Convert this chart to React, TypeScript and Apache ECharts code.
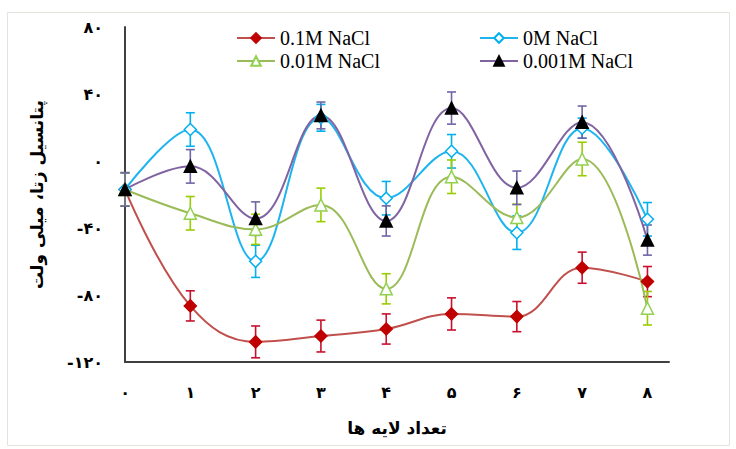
import React, { useEffect, useRef } from 'react';
import * as echarts from 'echarts';

// number of layers (x positions)
const layers = [0, 1, 2, 3, 4, 5, 6, 7, 8];
const yTicks = [-120, -80, -40, 0, 40, 80];

const seriesNames = ['0.1M NaCl', '0M NaCl', '0.01M NaCl', '0.001M NaCl'];

// zeta potential (mV)
const nacl01 = [-17, -86.5, -108, -104.5, -100.3, -91.3, -92.9, -63.7, -72];
const nacl0 = [-17, 18.8, -59.9, 25.8, -22.2, 5.8, -42.8, 19.6, -34.8];
const nacl001 = [-17, -31.2, -40.8, -26.2, -76.3, -9.4, -33.8, 1.2, -87.9];
const nacl0001 = [-17, -3.2, -34.4, 27.2, -35.8, 31.6, -16, 23.2, -47.2];

// error (±)
const err01 = [10, 9, 9.5, 9.5, 9, 9.6, 9, 9.3, 9];
const err0 = [10, 10, 9.6, 8, 10, 10, 10, 6, 10];
const err001 = [10, 10, 9, 10, 9, 10, 8, 10, 10];
const err0001 = [10, 10, 10, 8, 9, 9.6, 10, 9.6, 9];

const FA = '۰۱۲۳۴۵۶۷۸۹';
const fa = (n: number) => String(n).replace(/\d/g, (d) => FA[Number(d)]);

const persianFont = 'DejaVu Sans';

function lineSeries(name: string, values: number[], lineColor: string, symbol: string, fill: string, border: string, size: number) {
  return {
    type: 'line',
    name,
    data: layers.map((x, i) => [x, values[i]]),
    smooth: 0.4,
    symbol,
    symbolSize: size,
    showAllSymbol: true,
    lineStyle: { color: lineColor, width: 2 },
    itemStyle: { color: fill, borderColor: border, borderWidth: 1.5 },
    z: 3,
  };
}

function errSeries(name: string, values: number[], errs: number[], color: string) {
  return {
    type: 'custom',
    name: name + ' error',
    silent: true,
    z: 2,
    data: layers.map((x, i) => [x, values[i] - errs[i], values[i] + errs[i]]),
    encode: { x: 0, y: [1, 2] },
    renderItem: (_params: any, api: any) => {
      const x = api.value(0);
      const lo = api.coord([x, api.value(1)]);
      const hi = api.coord([x, api.value(2)]);
      const w = 4.5;
      const st = { stroke: color, lineWidth: 1.6 };
      return {
        type: 'group',
        children: [
          { type: 'line', shape: { x1: lo[0], y1: lo[1], x2: hi[0], y2: hi[1] }, style: st },
          { type: 'line', shape: { x1: lo[0] - w, y1: lo[1], x2: lo[0] + w, y2: lo[1] }, style: st },
          { type: 'line', shape: { x1: hi[0] - w, y1: hi[1], x2: hi[0] + w, y2: hi[1] }, style: st },
        ],
      };
    },
  };
}

export default function App() {
  const ref = useRef<HTMLDivElement>(null);
  useEffect(() => {
    const chart = echarts.init(ref.current!, null, { renderer: 'svg' });
    const legendText = { fontFamily: 'Liberation Serif', fontSize: 20, color: '#000' };
    chart.setOption({
      animation: false,
      backgroundColor: '#fff',
      grid: { left: 125, top: 27, right: 67, bottom: 87, containLabel: false },
      legend: [
        {
          orient: 'vertical', left: 236, top: 28, padding: 0, itemGap: 3, itemWidth: 38, itemHeight: 12,
          data: [seriesNames[0], seriesNames[2]], textStyle: legendText,
        },
        {
          orient: 'vertical', left: 479, top: 28, padding: 0, itemGap: 3, itemWidth: 38, itemHeight: 12,
          data: [seriesNames[1], seriesNames[3]], textStyle: legendText,
        },
      ],
      xAxis: {
        type: 'value', min: 0, max: 8.33, interval: 1,
        name: 'تعداد لایه ها', nameLocation: 'middle', nameGap: 57,
        nameTextStyle: { fontFamily: persianFont, fontSize: 17, fontWeight: 'bold', color: '#000' },
        axisLine: { show: true, onZero: false, lineStyle: { color: '#404040', width: 2 } },
        axisTick: { show: false },
        splitLine: { show: false },
        axisLabel: {
          margin: 22, fontFamily: persianFont, fontSize: 16, fontWeight: 'bold', color: '#000',
          formatter: (v: number) => (layers.includes(v) ? fa(v) : ''),
        },
      },
      yAxis: {
        type: 'value', min: yTicks[0], max: yTicks[yTicks.length - 1], interval: 40,
        name: 'پتانسیل زتا، میلی ولت', nameLocation: 'middle', nameGap: 80, nameRotate: 90,
        nameTextStyle: { fontFamily: persianFont, fontSize: 17, fontWeight: 'bold', color: '#000' },
        axisLine: { show: true, onZero: false, lineStyle: { color: '#404040', width: 2 } },
        axisTick: { show: false },
        splitLine: { show: false },
        axisLabel: {
          margin: 22, fontFamily: persianFont, fontSize: 16, fontWeight: 'bold', color: '#000',
          formatter: (v: number) => (v < 0 ? '-' + fa(-v) : fa(v)),
        },
      },
      graphic: [
        {
          type: 'rect', shape: { x: 7.5, y: 12.5, width: 722, height: 433 },
          style: { fill: 'none', stroke: '#E6E3DC', lineWidth: 1 }, silent: true,
        },
      ],
      series: [
        errSeries(seriesNames[0], nacl01, err01, '#C8102E'),
        errSeries(seriesNames[1], nacl0, err0, '#00B0F0'),
        errSeries(seriesNames[2], nacl001, err001, '#99CC00'),
        errSeries(seriesNames[3], nacl0001, err0001, '#6E66A6'),
        lineSeries(seriesNames[0], nacl01, '#C0504D', 'diamond', '#C00000', '#C00000', 12),
        lineSeries(seriesNames[1], nacl0, '#1EB4F0', 'diamond', '#ffffff', '#00B0F0', 12),
        lineSeries(seriesNames[2], nacl001, '#9BBB59', 'triangle', '#ffffff', '#92D050', 12),
        lineSeries(seriesNames[3], nacl0001, '#8064A2', 'triangle', '#000000', '#000000', 12),
      ],
    });
    return () => chart.dispose();
  }, []);
  return (
    <div
      ref={ref}
      style={{ position: 'fixed', left: 0, top: 0, width: 736, height: 449, background: '#fff' }}
    />
  );
}
